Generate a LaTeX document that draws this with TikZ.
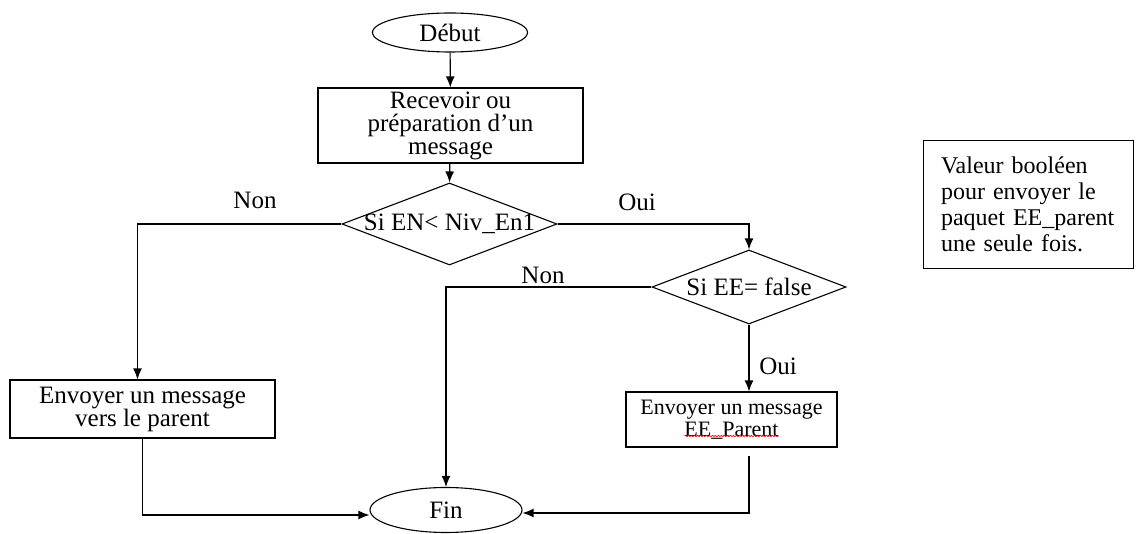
\documentclass[tikz,border=0pt]{standalone}
\usepackage{fontspec}
\setmainfont{Liberation Serif}
\usetikzlibrary{shapes.geometric,arrows.meta,calc,decorations.pathmorphing}

\tikzset{
  txt/.style={font=\fontsize{25}{23}\selectfont},
  base/.style={draw, line width=1.1pt, inner sep=0pt, txt},
  term/.style={base, ellipse},
  procbox/.style={base, rectangle, align=center},
  decision/.style={draw, line width=1.1pt, diamond, inner sep=0pt},
  lbl/.style={txt},
  flow/.style={line width=1.2pt, -{Latex[length=11pt,width=9pt]}},
}

\begin{document}
\begin{tikzpicture}[x=1pt,y=-1pt]
\useasboundingbox (0,0) rectangle (1141,534);

% terminals
\node[term, minimum width=155, minimum height=39] (debut) at (450,32.5) {Début};
\node[term, minimum width=152, minimum height=45] (fin) at (446,510) {Fin};

% processing boxes
\node[procbox, minimum width=265, minimum height=75] (recv) at (450.5,125.5)
  {Recevoir ou\\préparation d’un\\message};
\node[procbox, minimum width=265, minimum height=58] (sendp) at (142.5,409)
  {Envoyer un message\\vers le parent};
\node[procbox, minimum width=211, minimum height=55,
  font=\fontsize{22}{21.5}\selectfont] (sendee) at (731.5,419.5)
  {Envoyer un message\\EE\_Parent};

% decisions
\node[decision, minimum width=215, minimum height=82] (d1) at (449.5,224) {};
\node[lbl] (d1t) at (d1) {Si EN< Niv\_En1};
\node[decision, minimum width=194, minimum height=74] (d2) at (749,287) {};
\node[lbl] (d2t) at (d2) {Si EE= false};

% side note
\node[base, rectangle, minimum width=210, minimum height=128, align=left,
  font=\fontsize{24}{26}\selectfont, text width=175, inner xsep=17.5pt,
  anchor=north west] (note) at (923,140)
  {Valeur booléen\\pour envoyer le\\paquet EE\_parent\\une seule fois.};

% spelling mark under EE_Parent
\coordinate (wavyA) at ($(sendee.center)+(-47,16.5)$);
\coordinate (wavyB) at ($(sendee.center)+(47,16.5)$);
\draw[red, line width=0.6pt, decorate,
  decoration={snake, amplitude=0.8pt, segment length=3pt}] (wavyA) -- (wavyB);

% connectors
\draw[flow] (debut) -- (recv);
\draw[flow] (recv) -- (d1.north);
\draw[flow] (d1.west) -| ([xshift=-5pt]sendp.north);
\draw[flow] (d1.east) -| (d2.north);
\draw[flow] (d2.west) -| (fin.north);
\draw[flow] (d2.south) -- (d2.south |- sendee.north);
\coordinate (eeout) at ($(sendee.south -| d2.south)+(0,8)$);
\draw[flow] (sendp.south) |- ([yshift=-5pt]fin.west);
\draw[flow] (eeout) |- ([yshift=-3pt]fin.east);

% branch labels
\node[lbl] (non1) at (255,200) {Non};
\node[lbl] (oui1) at (637,202) {Oui};
\node[lbl] (non2) at (543,275) {Non};
\node[lbl] (oui2) at (778,366) {Oui};
\end{tikzpicture}
\end{document}
